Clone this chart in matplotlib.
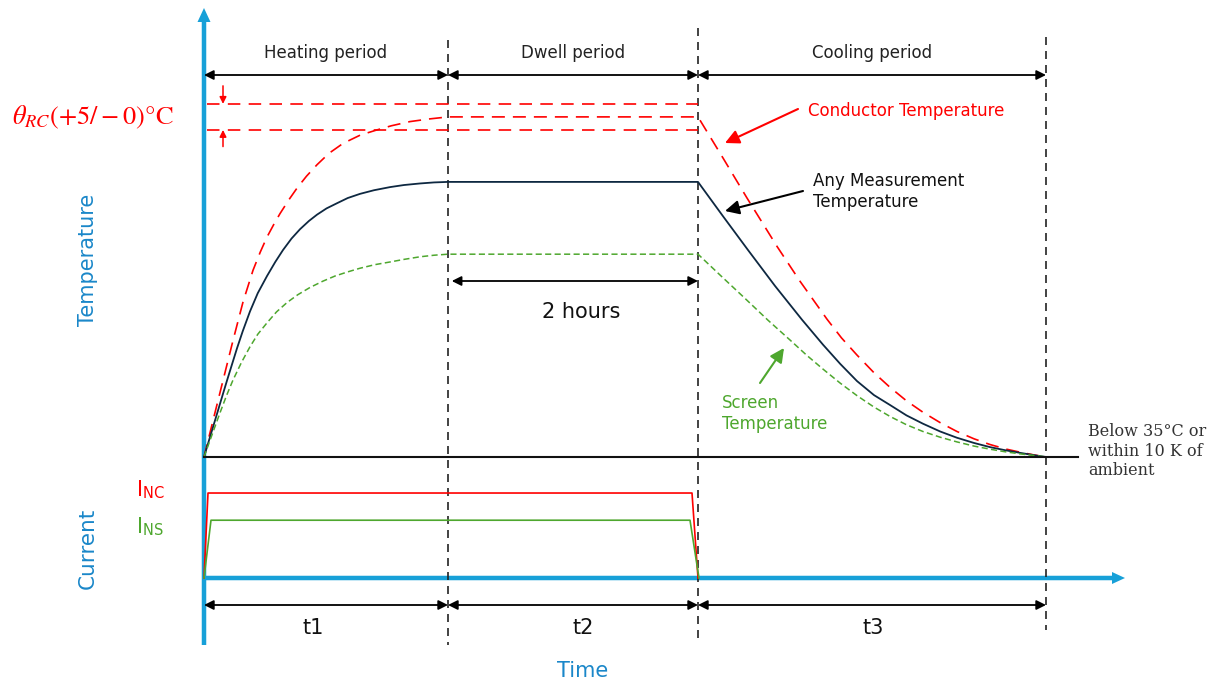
import matplotlib
matplotlib.use('Agg')
import matplotlib.pyplot as plt
from matplotlib import transforms
from matplotlib.patches import FancyArrow

# test cycle periods (hours), dwell lasts 2 h
PERIOD_BOUNDS = [0.0, 1.952, 3.952, 6.736]
PERIOD_NAMES = ['Heating period', 'Dwell period', 'Cooling period']
DURATION_LABELS = ['t1', 't2', 't3']

AMBIENT = 20.0
THETA_RC = 82.9
THETA_RC_TOP = 87.9
AMBIENT_LINE_END = 6.99

# conductor temperature (red dashed)
COND_T = [0, 0.072, 0.152, 0.232, 0.312, 0.392, 0.45, 0.504, 0.56, 0.608, 0.68, 0.744, 0.82, 0.904,
          1.0, 1.112, 1.25, 1.384, 1.5, 1.648, 1.8, 1.952,
          3.952, 4.152, 4.344, 4.584, 4.768, 4.984, 5.1, 5.224, 5.36, 5.488, 5.62, 5.752, 5.89,
          6.024, 6.16, 6.288, 6.42, 6.552, 6.65, 6.736]
COND_V = [20, 27.0, 34.7, 42.4, 49.8, 55.9, 59.4, 62.3, 64.8, 66.8, 69.5, 71.7, 74.0, 76.2,
          78.4, 80.3, 81.9, 82.9, 83.7, 84.5, 85.0, 85.4,
          85.4, 77.5, 69.8, 60.5, 53.8, 46.5, 42.9, 39.6, 36.2, 33.4, 30.8, 28.6, 26.6,
          24.9, 23.5, 22.4, 21.5, 20.8, 20.35, 20]

# any measurement temperature (dark solid)
MEAS_T = [0, 0.05, 0.104, 0.15, 0.184, 0.22, 0.264, 0.31, 0.368, 0.43, 0.504, 0.57, 0.632, 0.7,
          0.768, 0.84, 0.904, 0.98, 1.064, 1.15, 1.248, 1.36, 1.488, 1.6, 1.728, 1.84, 1.952,
          3.952, 4.152, 4.352, 4.568, 4.784, 4.952, 5.09, 5.224, 5.36, 5.488, 5.62, 5.752, 5.89,
          6.024, 6.16, 6.288, 6.41, 6.528, 6.64, 6.736]
MEAS_V = [20, 24.0, 28.3, 32.0, 34.7, 37.5, 40.9, 44.2, 48.0, 51.5, 54.8, 57.5, 59.8, 62.0,
          63.8, 65.4, 66.6, 67.8, 68.8, 69.8, 70.6, 71.3, 71.9, 72.3, 72.6, 72.8, 72.9,
          72.9, 66.3, 59.8, 52.9, 46.4, 41.6, 37.9, 34.6, 31.9, 30.0, 28.0, 26.4, 24.9,
          23.7, 22.7, 21.9, 21.3, 20.8, 20.35, 20]

# screen temperature (green dashed)
SCR_T = [0, 0.06, 0.128, 0.18, 0.232, 0.3, 0.368, 0.43, 0.504, 0.58, 0.664, 0.75, 0.848, 0.95,
         1.048, 1.15, 1.248, 1.37, 1.488, 1.6, 1.728, 1.84, 1.952,
         3.952, 4.128, 4.328, 4.512, 4.688, 4.82, 4.952, 5.09, 5.224, 5.36, 5.488, 5.62, 5.752,
         5.89, 6.024, 6.16, 6.288, 6.41, 6.528, 6.64, 6.736]
SCR_V = [20, 24.0, 28.5, 31.8, 34.8, 38.2, 41.2, 43.6, 45.8, 47.9, 49.7, 51.2, 52.6, 53.8,
         54.8, 55.6, 56.3, 57.0, 57.5, 58.0, 58.5, 58.8, 59.0,
         59.0, 55.0, 50.5, 46.3, 42.5, 39.6, 36.9, 34.2, 31.8, 29.6, 27.8, 26.2, 24.9,
         23.8, 22.9, 22.1, 21.5, 21.0, 20.6, 20.3, 20]

# load currents (per unit)
INC_T = [0, 0.032, 3.904, 3.952]
INC_V = [0, 1.0, 1.0, 0]
INS_T = [0, 0.056, 3.888, 3.960]
INS_V = [0, 0.68, 0.68, 0]

RED = '#ff0000'
GREEN = '#4ea72e'
DARK = '#0e2841'
BLUE = '#17a0d8'
BLUE_TXT = '#1a87c9'

fig = plt.figure(figsize=(12.18, 6.83), dpi=100)

# overlay in pixel units for the drawing furniture
ax_o = fig.add_axes([0, 0, 1, 1], label='overlay')
ax_o.set_xlim(0, 1218)
ax_o.set_ylim(683, 0)
ax_o.axis('off')

ax_t = fig.add_axes([0, 0, 1, 1], label='temperature')
ax_t.set_xlim(-1.632, 8.112)
ax_t.set_ylim(-23.46, 107.88)
ax_t.axis('off')
ax_t.patch.set_alpha(0)

ax_i = fig.add_axes([0, 0, 1, 1], label='current')
ax_i.set_xlim(-1.632, 8.112)
ax_i.set_ylim(-1.235, 6.8)
ax_i.axis('off')
ax_i.patch.set_alpha(0)

# x in hours, y in overlay pixels
blend = transforms.blended_transform_factory(ax_t.transData, ax_o.transData)

# blue axes
ax_o.add_patch(FancyArrow(204, 645, 0, -637, width=4.5, head_width=13, head_length=14,
                          length_includes_head=True, color=BLUE, lw=0))
ax_o.add_patch(FancyArrow(202, 578, 923, 0, width=4.5, head_width=12, head_length=13,
                          length_includes_head=True, color=BLUE, lw=0))

# period boundaries
tops = [40, 28, 37]
bottoms = [645, 640, 630]
for x, y0, y1 in zip(PERIOD_BOUNDS[1:], tops, bottoms):
    ax_o.plot([x, x], [y0, y1], transform=blend, color='#222222', lw=1.2,
              dashes=(4.8, 3.6))

arrow_kw = dict(arrowstyle='<|-|>', color='black', lw=1.3, mutation_scale=14,
                shrinkA=0, shrinkB=0)
for i in range(3):
    x0, x1 = PERIOD_BOUNDS[i], PERIOD_BOUNDS[i + 1]
    ax_o.annotate('', xy=(x1, 75), xytext=(x0, 75), xycoords=blend, textcoords=blend,
                  arrowprops=arrow_kw)
    ax_o.annotate('', xy=(x1, 605), xytext=(x0, 605), xycoords=blend, textcoords=blend,
                  arrowprops=arrow_kw)
    ax_o.text((x0 + x1) / 2, 53, PERIOD_NAMES[i], transform=blend, ha='center',
              va='center', fontsize=12, color='#222222')

dur_x = [313, 583, 873]
for x, lab in zip(dur_x, DURATION_LABELS):
    ax_o.text(x, 628, lab, ha='center', va='center', fontsize=15, color='#111111')

# 2 hours dwell marker
ax_o.annotate('', xy=(PERIOD_BOUNDS[2], 281), xytext=(PERIOD_BOUNDS[1] + 0.03, 281),
              xycoords=blend, textcoords=blend, arrowprops=arrow_kw)
ax_o.text(581, 312, '2 hours', ha='center', va='center', fontsize=15, color='#111111')

# axis titles
ax_o.text(88, 260, 'Temperature', rotation=90, ha='center', va='center', fontsize=15,
          color=BLUE_TXT)
ax_o.text(88, 548, 'Current', rotation=90, ha='center', va='center', fontsize=15.5,
          color=BLUE_TXT)
ax_o.text(583, 671, 'Time', ha='center', va='center', fontsize=15, color=BLUE_TXT)

# temperature curves
ax_t.plot(COND_T, COND_V, color=RED, lw=1.2, dashes=(7.8, 4.8))
ax_t.plot(MEAS_T, MEAS_V, color=DARK, lw=1.3)
ax_t.plot(SCR_T, SCR_V, color=GREEN, lw=1.1, dashes=(4, 2.2))
ax_t.plot([0, AMBIENT_LINE_END], [AMBIENT, AMBIENT], color='#111111', lw=1.5)

# tolerance band on the conductor temperature
for v in [THETA_RC, THETA_RC_TOP]:
    ax_t.plot([0.024, PERIOD_BOUNDS[2]], [v, v], color=RED, lw=1.2, dashes=(7.5, 5))
ax_t.annotate('', xy=(0.152, THETA_RC_TOP), xytext=(0, 13), textcoords='offset points',
              arrowprops=dict(arrowstyle='-|>', color=RED, lw=1.1, mutation_scale=10,
                              shrinkA=0, shrinkB=0))
ax_t.annotate('', xy=(0.152, THETA_RC), xytext=(0, -12), textcoords='offset points',
              arrowprops=dict(arrowstyle='-|>', color=RED, lw=1.1, mutation_scale=10,
                              shrinkA=0, shrinkB=0))
plt.rcParams['mathtext.fontset'] = 'stix'
ax_o.text(93, 117, r'$\theta_{RC}(+5/-0)$°C', ha='center', va='center', fontsize=19,
          color=RED, family='STIXGeneral')

# curve labels
point_kw = dict(shrinkA=0, shrinkB=0, mutation_scale=14, lw=1.5)
ax_o.annotate('', xy=(725, 143), xytext=(798, 109),
              arrowprops=dict(arrowstyle='-|>,head_length=0.6,head_width=0.3', color=RED, **point_kw))
ax_o.text(808, 111, 'Conductor Temperature', ha='left', va='center', fontsize=12, color=RED)
ax_o.annotate('', xy=(725, 211), xytext=(803, 191),
              arrowprops=dict(arrowstyle='-|>,head_length=0.6,head_width=0.3', color='black', **point_kw))
ax_o.text(813, 191.5, 'Any Measurement\nTemperature', ha='left', va='center', fontsize=12,
          color='#111111', linespacing=1.2)
ax_o.annotate('', xy=(784, 348), xytext=(760, 383),
              arrowprops=dict(arrowstyle='-|>,head_length=0.6,head_width=0.3', color=GREEN, **point_kw))
ax_o.text(722, 413.5, 'Screen\nTemperature', ha='left', va='center', fontsize=12,
          color=GREEN, linespacing=1.2)
ax_o.text(1088, 451, 'Below 35°C or\nwithin 10 K of\nambient', ha='left', va='center',
          fontsize=11.5, color='#333333', family='DejaVu Serif', linespacing=1.2)

# current traces
ax_i.plot(INC_T, INC_V, color=RED, lw=1.2)
ax_i.plot(INS_T, INS_V, color=GREEN, lw=1.2)
ax_o.text(150, 490, r'I$_{\mathregular{NC}}$', ha='center', va='center', fontsize=15, color=RED)
ax_o.text(150, 527, r'I$_{\mathregular{NS}}$', ha='center', va='center', fontsize=15, color=GREEN)

fig.savefig('out.png', dpi=100)
